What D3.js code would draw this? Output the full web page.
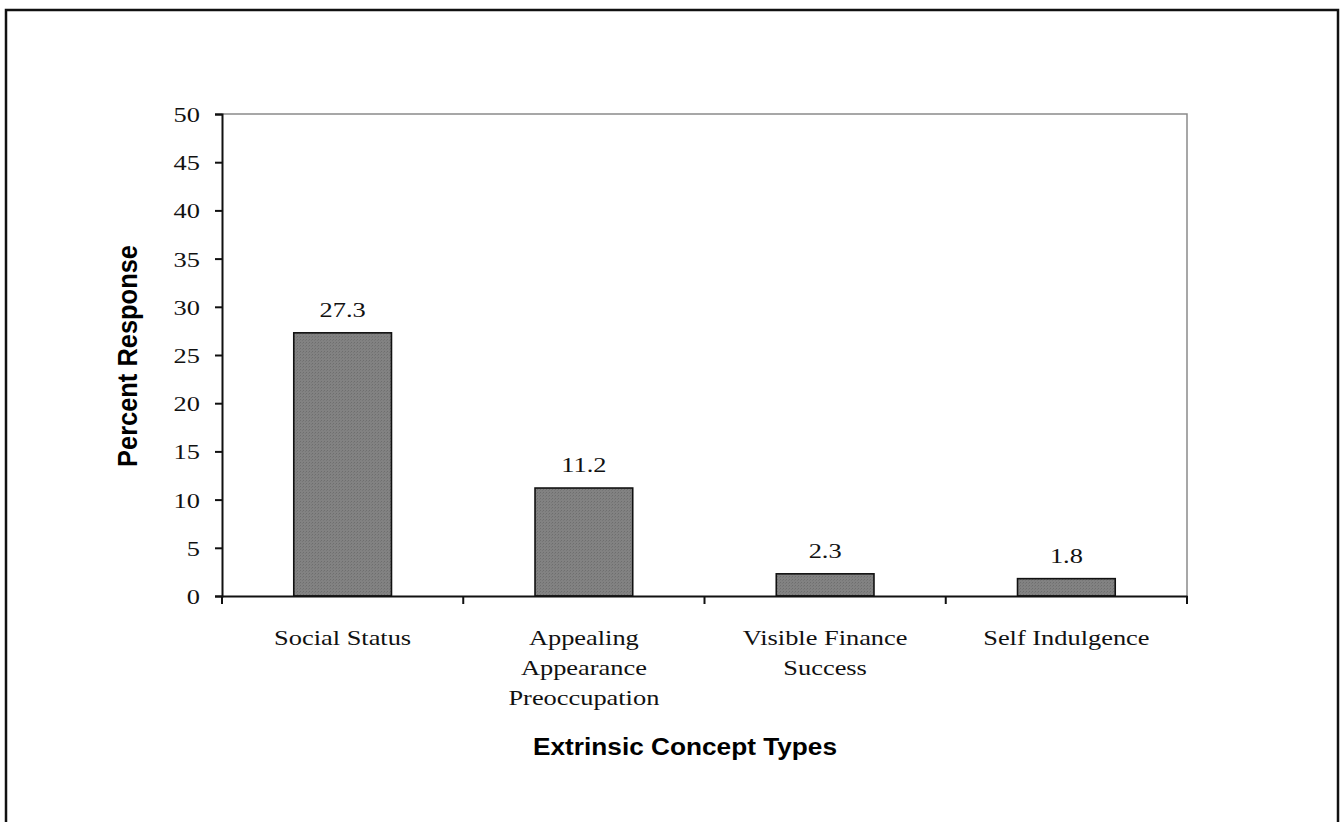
<!DOCTYPE html>
<html>
<head>
<meta charset="utf-8">
<script src="https://cdn.jsdelivr.net/npm/d3@7"></script>
<style>
  html, body { margin: 0; padding: 0; background: #fff; }
  svg { display: block; }
</style>
</head>
<body>
<svg id="chart" width="1340" height="822"></svg>
<script>
// ---- data ----
const categories = ["Social Status", "Appealing Appearance Preoccupation", "Visible Finance Success", "Self Indulgence"];
const categoryLines = [["Social Status"], ["Appealing", "Appearance", "Preoccupation"], ["Visible Finance", "Success"], ["Self Indulgence"]];
const values = [27.3, 11.2, 2.3, 1.8];
const valueLabels = ["27.3", "11.2", "2.3", "1.8"];
const yTicks = [0, 5, 10, 15, 20, 25, 30, 35, 40, 45, 50];
const yTitle = "Percent Response";
const xTitle = "Extrinsic Concept Types";

// ---- layout ----
const svg = d3.select("#chart");
const plot = { left: 222, right: 1187, top: 114, bottom: 596 };
const serif = "'Liberation Serif', 'Times New Roman', serif";
const sans = "'Liberation Sans', Arial, sans-serif";
const stretch = 1.2;

// outer frame
svg.append("rect")
  .attr("x", 6).attr("y", 10).attr("width", 1332).attr("height", 900)
  .attr("fill", "none").attr("stroke", "#111").attr("stroke-width", 2.5);

// pattern for bars
const defs = svg.append("defs");
const pat = defs.append("pattern").attr("id", "dots").attr("patternUnits", "userSpaceOnUse")
  .attr("width", 3).attr("height", 3);
pat.append("rect").attr("width", 3).attr("height", 3).attr("fill", "#828282");
pat.append("rect").attr("x", 0).attr("y", 0).attr("width", 1).attr("height", 1).attr("fill", "#6e6e6e");
pat.append("rect").attr("x", 2).attr("y", 1).attr("width", 1).attr("height", 1).attr("fill", "#777");

const x = d3.scaleBand().domain(categories).range([plot.left, plot.right]).padding(0);
const y = d3.scaleLinear().domain([0, 50]).range([plot.bottom, plot.top]);

// plot area border (top & right, gray)
svg.append("path")
  .attr("d", `M${plot.left},${y(50)}H${plot.right}V${y(0)}`)
  .attr("fill", "none").attr("stroke", "#8a8a8a").attr("stroke-width", 1.5);

// bars
const barW = x.bandwidth() * 0.405;
svg.selectAll("rect.bar").data(values).enter().append("rect")
  .attr("class", "bar")
  .attr("x", (d, i) => x(categories[i]) + x.bandwidth() / 2 - barW / 2)
  .attr("y", d => y(d))
  .attr("width", barW)
  .attr("height", d => y(0) - y(d))
  .attr("fill", "url(#dots)")
  .attr("stroke", "#111").attr("stroke-width", 1.6);

// value labels
svg.selectAll("text.val").data(values).enter().append("text")
  .attr("class", "val")
  .attr("transform", (d, i) => `translate(${x(categories[i]) + x.bandwidth() / 2},${y(d) - 16}) scale(${stretch},1)`)
  .attr("text-anchor", "middle")
  .attr("font-family", serif).attr("font-size", 22).attr("fill", "#111")
  .text((d, i) => valueLabels[i]);

// y axis
const yAxis = svg.append("g")
  .attr("transform", `translate(${plot.left},0)`)
  .call(d3.axisLeft(y).tickValues(yTicks).tickSize(7).tickPadding(15).tickFormat(d3.format("d")));
yAxis.select(".domain").attr("stroke", "#111").attr("stroke-width", 2);
yAxis.selectAll(".tick line").attr("stroke", "#111").attr("stroke-width", 2);
yAxis.selectAll(".tick text").each(function () {
  const t = d3.select(this);
  const tx = +t.attr("x");
  t.attr("x", 0).attr("dy", "0.34em")
   .attr("transform", `translate(${tx},0) scale(${stretch},1)`)
   .attr("font-family", serif).attr("font-size", 22).attr("fill", "#111");
});

// x axis
const xAxis = svg.append("g")
  .attr("transform", `translate(0,${plot.bottom})`)
  .call(d3.axisBottom(x).tickSize(0).tickFormat(""));
xAxis.select(".domain").attr("stroke", "#111").attr("stroke-width", 2);
const bounds = categories.map(c => x(c)).concat([x.range()[1]]);
xAxis.selectAll("line.bound").data(bounds).enter().append("line")
  .attr("class", "bound")
  .attr("x1", d => d).attr("x2", d => d).attr("y1", 0).attr("y2", 8)
  .attr("stroke", "#111").attr("stroke-width", 2);

// category labels
const catG = svg.selectAll("g.cat").data(categoryLines).enter().append("g")
  .attr("class", "cat")
  .attr("transform", (d, i) => `translate(${x(categories[i]) + x.bandwidth() / 2},${plot.bottom + 49})`);
catG.each(function (lines) {
  d3.select(this).selectAll("text").data(lines).enter().append("text")
    .attr("transform", (d, j) => `translate(0,${j * 30}) scale(${stretch},1)`)
    .attr("text-anchor", "middle")
    .attr("font-family", serif).attr("font-size", 22).attr("fill", "#111")
    .text(d => d);
});

// axis titles
svg.append("text")
  .attr("transform", `translate(137,356) rotate(-90) scale(1,${stretch})`)
  .attr("text-anchor", "middle")
  .attr("font-family", sans).attr("font-weight", "bold").attr("font-size", 23).attr("fill", "#000")
  .attr("textLength", 222).attr("lengthAdjust", "spacingAndGlyphs")
  .text(yTitle);

svg.append("text")
  .attr("transform", `translate(685,755)`)
  .attr("text-anchor", "middle")
  .attr("font-family", sans).attr("font-weight", "bold").attr("font-size", 23).attr("fill", "#000")
  .attr("textLength", 304).attr("lengthAdjust", "spacingAndGlyphs")
  .text(xTitle);
</script>
</body>
</html>
